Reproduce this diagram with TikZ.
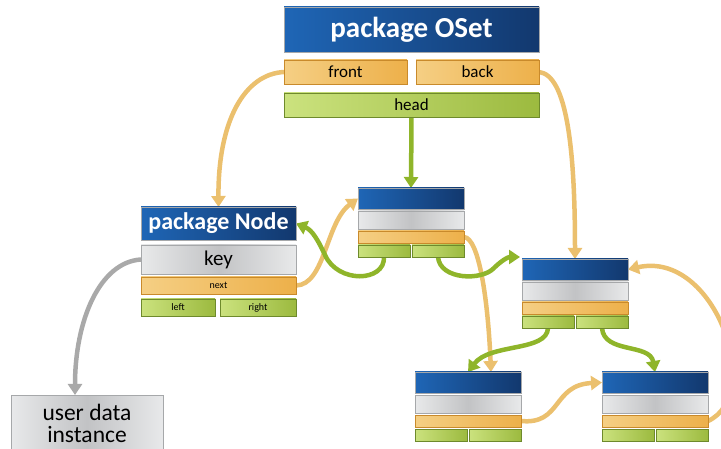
\documentclass[tikz,border=0pt]{standalone}
\usepackage{fontspec}
\setmainfont{Carlito}
\usetikzlibrary{arrows.meta}
\pgfdeclarelayer{bg}
\pgfsetlayers{bg,main}

\definecolor{blueL}{HTML}{1F66B6}
\definecolor{blueR}{HTML}{12386E}
\definecolor{frameG}{HTML}{A6A8AA}
\definecolor{grayE}{HTML}{E8E9EA}
\definecolor{grayM}{HTML}{C2C3C5}
\definecolor{orL}{HTML}{F5CF84}
\definecolor{orR}{HTML}{EDB04A}
\definecolor{orFrame}{HTML}{C98A2B}
\definecolor{grL}{HTML}{CBE27E}
\definecolor{grR}{HTML}{9CBA3F}
\definecolor{grFrame}{HTML}{6E8A2C}
\definecolor{arrOr}{HTML}{EBC06E}
\definecolor{arrGr}{HTML}{8FB52A}
\definecolor{arrGy}{HTML}{A9A9A9}

\tikzset{
  cell/.style={anchor=north west, inner sep=0pt, outer sep=0pt, line width=0.8pt},
  titlebox/.style={cell, draw=frameG, left color=blueL, right color=blueR, text=white, font=\bfseries},
  graybox/.style={cell, draw=frameG, left color=grayE, right color=grayE, middle color=grayM},
  orbox/.style={cell, draw=orFrame, left color=orL, right color=orR},
  grbox/.style={cell, draw=grFrame, left color=grL, right color=grR},
  flow/.style={line width=4.5pt, -{Triangle[width=14pt,length=11pt]}},
}

% one list element: title bar, key bar, next bar, left/right child bars
\newcommand\listelem[3]{%
  \node[titlebox, minimum width=106pt, minimum height=21pt] (#1t) at (#2,#3) {};
  \node[graybox, minimum width=106pt, minimum height=18pt] (#1k) at (#2,#3+23) {};
  \node[orbox, minimum width=106pt, minimum height=12pt] (#1n) at (#2,#3+43) {};
  \node[grbox, minimum width=52pt, minimum height=12pt] (#1l) at (#2,#3+57) {};
  \node[grbox, minimum width=52pt, minimum height=12pt] (#1r) at (#2+54,#3+57) {};
}

\begin{document}
\begin{tikzpicture}[x=1pt,y=-1pt]
\useasboundingbox (0,0) rectangle (721,449);

% the set header
\node[titlebox, minimum width=255pt, minimum height=45pt, font=\bfseries\fontsize{29}{32}\selectfont] (oset) at (284,7) {package OSet};
\node[orbox, minimum width=123pt, minimum height=24pt, font=\fontsize{17}{20}\selectfont] (front) at (284,60) {front};
\node[orbox, minimum width=123pt, minimum height=24pt, font=\fontsize{17}{20}\selectfont] (back) at (416,60) {back};
\node[grbox, minimum width=255pt, minimum height=24pt, font=\fontsize{17}{20}\selectfont] (head) at (284,93) {head};

% the node description
\node[titlebox, minimum width=155pt, minimum height=33pt, font=\bfseries\fontsize{24}{28}\selectfont] (ntitle) at (141,207) {package Node};
\node[graybox, minimum width=155pt, minimum height=29pt, font=\fontsize{21}{24}\selectfont] (nkey) at (141,245) {key};
\node[orbox, minimum width=155pt, minimum height=17pt, font=\fontsize{10}{12}\selectfont] (nnext) at (141,277) {next};
\node[grbox, minimum width=74pt, minimum height=17pt, font=\fontsize{10}{12}\selectfont] (nleft) at (141,299) {left};
\node[grbox, minimum width=76pt, minimum height=17pt, font=\fontsize{10}{12}\selectfont] (nright) at (220,299) {right};

% user data
\node[graybox, minimum width=152pt, minimum height=56pt, align=center, font=\fontsize{23.5}{22}\selectfont] (user) at (11,395) {user data\\instance};

% list elements
\listelem{a}{358}{188}
\listelem{b}{522}{259}
\listelem{c}{415}{372}
\listelem{d}{602}{372}

\begin{pgfonlayer}{bg}
  % header pointers
  \draw[flow, arrOr] (front.west) .. controls (245,74) and (218,120) .. (ntitle.north);
  \draw[flow, arrOr] (back.east) .. controls (567,75) and (575,150) .. (bt.north);
  \draw[flow, arrGr] (head.south) -- (at.north);
  % key to user data
  \draw[flow, arrGy] (nkey.west) .. controls (100,262) and (75,320) .. ([xshift=-12pt]user.north);
  % next pointers
  \draw[flow, arrOr] (nnext.east) .. controls (325,285) and (326,222) .. (at.west);
  \draw[flow, arrOr] (an.east) .. controls (479,238) and (488,300) .. ([xshift=23pt]ct.north);
  \draw[flow, arrOr] (cn.east) .. controls (562,425) and (552,385) .. (dt.west);
  \draw[flow, arrOr] (dn.east) .. controls (765,395) and (715,250) .. (bt.east);
  % child pointers
  \draw[flow, arrGr] (al.south) .. controls (385,282) and (338,284) .. (325,255)
        .. controls (318,240) and (312,230) .. (ntitle.east);
  \draw[flow, arrGr] (ar.south) .. controls (440,280) and (482,281) .. (494,268)
        .. controls (501,261) and (508,257) .. ([xshift=-2pt,yshift=2pt]bt.north west);
  \draw[flow, arrGr] (bl.south) .. controls (547,352) and (490,343) .. (ct.north);
  \draw[flow, arrGr] (br.south) .. controls (604,354) and (650,343) .. (dt.north);
\end{pgfonlayer}
\end{tikzpicture}
\end{document}
